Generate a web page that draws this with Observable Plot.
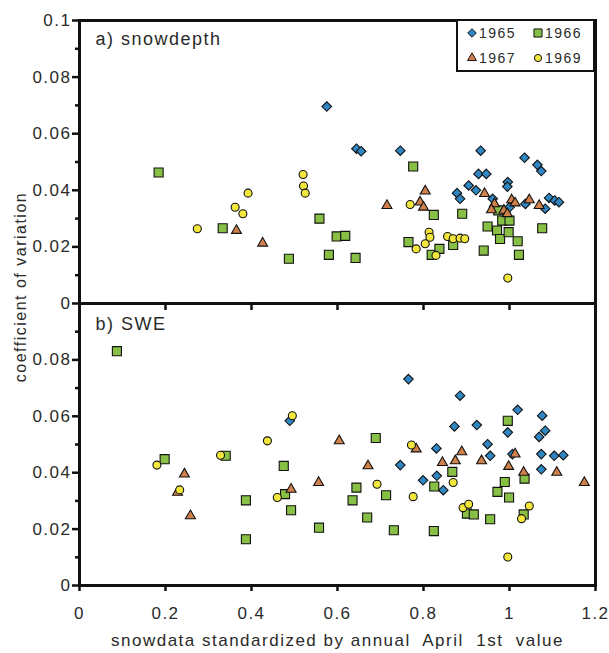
<!DOCTYPE html>
<html><head><meta charset="utf-8">
<script src="https://cdn.jsdelivr.net/npm/d3@7"></script>
<script src="https://cdn.jsdelivr.net/npm/@observablehq/plot@0.6"></script>
<style>
body{margin:0;background:#fff;}
#wrap{position:relative;width:609px;height:653px;font-family:"Liberation Sans",Arial,sans-serif;color:#2a2a2a;overflow:hidden;}
#wrap svg text{letter-spacing:1.5px;}
#top{position:absolute;left:0;top:0;}
#bot{position:absolute;left:0;top:303px;}
#ylab{position:absolute;left:21px;top:287px;transform:translate(-50%,-50%) rotate(-90deg);white-space:nowrap;font-size:16px;letter-spacing:1.5px;}
#legend{position:absolute;left:456px;top:19px;width:139px;height:53px;box-sizing:border-box;border:2.5px solid #111;background:#fff;}
#legend svg{position:absolute;left:-2.5px;top:-2.5px;}
</style></head>
<body><div id="wrap"><div id="top"></div><div id="bot"></div><div id="ylab">coefficient of variation</div><div id="legend"></div></div>
<script>
const years = ["1965", "1966", "1967", "1969"];
const colors = ["#2f86c2", "#88bf45", "#d0804a", "#f3e73d"];
const symbols = ["diamond2", "square", "triangle", "circle"];
const radii = [4.3, 5.1, 3.7, 4];
const panelLabels = ["a) snowdepth", "b) SWE"];
const xLabel = "snowdata standardized by annual  April  1st  value";
const xTicks = [0, 0.2, 0.4, 0.6, 0.8, 1, 1.2];
const innerXTicks = [0.2, 0.4, 0.6, 0.8, 1];
const yTicksTop = [0, 0.02, 0.04, 0.06, 0.08, 0.1];
const yTicksBottom = [0, 0.02, 0.04, 0.06, 0.08];
const yMinor = [0.01, 0.03, 0.05, 0.07, 0.09];

// a) snowdepth
const depth1965 = [[0.575,0.0696],[0.644,0.0547],[0.655,0.0538],[0.746,0.054],[0.933,0.054],[0.928,0.0458],[0.946,0.0458],[0.878,0.039],[0.885,0.037],[0.905,0.0417],[0.922,0.040],[0.961,0.037],[0.996,0.0429],[0.995,0.0413],[1.0,0.034],[1.035,0.0515],[1.065,0.049],[1.074,0.0468],[1.037,0.0352],[1.083,0.0335],[1.092,0.0373],[1.105,0.0364],[1.115,0.0358]];
const depth1966 = [[0.184,0.0463],[0.333,0.0266],[0.487,0.0158],[0.558,0.030],[0.58,0.0172],[0.598,0.0237],[0.618,0.0239],[0.642,0.0161],[0.776,0.0484],[0.824,0.0313],[0.89,0.0317],[0.765,0.0217],[0.819,0.0172],[0.837,0.0193],[0.869,0.0207],[0.94,0.0187],[0.949,0.0272],[0.971,0.0258],[0.978,0.0228],[0.983,0.0293],[0.974,0.0329],[1.0,0.0293],[0.998,0.0252],[1.019,0.022],[1.022,0.0172],[1.076,0.0266]];
const depth1967 = [[0.365,0.0258],[0.426,0.0213],[0.715,0.0346],[0.792,0.0358],[0.804,0.0397],[0.8,0.034],[0.942,0.0388],[0.965,0.0352],[0.958,0.0331],[0.987,0.0329],[0.995,0.0317],[1.005,0.0366],[1.013,0.0355],[1.046,0.0366],[1.069,0.0346]];
const depth1969 = [[0.274,0.0264],[0.362,0.034],[0.38,0.0317],[0.392,0.039],[0.52,0.0456],[0.521,0.0415],[0.525,0.039],[0.769,0.035],[0.783,0.0193],[0.804,0.0211],[0.813,0.0252],[0.815,0.0234],[0.829,0.017],[0.856,0.0237],[0.869,0.0229],[0.885,0.0231],[0.896,0.0229],[0.996,0.009]];

// b) SWE
const swe1965 = [[0.489,0.0584],[0.765,0.0732],[0.746,0.0427],[0.799,0.0373],[0.83,0.0486],[0.831,0.0389],[0.846,0.0338],[0.872,0.0564],[0.885,0.0673],[0.924,0.0569],[0.949,0.0501],[0.955,0.046],[0.996,0.0543],[1.007,0.0466],[1.019,0.0623],[1.076,0.0602],[1.083,0.0549],[1.069,0.0527],[1.074,0.0466],[1.074,0.0412],[1.104,0.046],[1.125,0.0462]];
const swe1966 = [[0.087,0.0831],[0.198,0.0448],[0.387,0.0302],[0.387,0.0164],[0.475,0.0424],[0.478,0.0324],[0.492,0.0267],[0.34,0.046],[0.557,0.0205],[0.635,0.0302],[0.644,0.0347],[0.669,0.0241],[0.689,0.0523],[0.713,0.032],[0.731,0.0196],[0.824,0.0193],[0.825,0.0351],[0.867,0.0403],[0.901,0.0255],[0.917,0.0252],[0.955,0.0235],[0.972,0.0332],[0.989,0.0367],[0.996,0.0584],[0.999,0.0312],[1.035,0.0379],[1.033,0.0252]];
const swe1967 = [[0.244,0.0395],[0.228,0.033],[0.258,0.0247],[0.492,0.0341],[0.556,0.0365],[0.604,0.0513],[0.671,0.0424],[0.783,0.0484],[0.844,0.0436],[0.874,0.0442],[0.889,0.0474],[0.935,0.0442],[0.998,0.0422],[1.013,0.0466],[1.033,0.0401],[1.11,0.0401],[1.174,0.0365]];
const swe1969 = [[0.18,0.0427],[0.233,0.0339],[0.328,0.0462],[0.437,0.0513],[0.46,0.0312],[0.495,0.0602],[0.692,0.0359],[0.772,0.0498],[0.776,0.0315],[0.869,0.0365],[0.892,0.0276],[0.905,0.0288],[1.028,0.0237],[1.046,0.0282],[0.996,0.0101]];

const depthSeries = [depth1965, depth1966, depth1967, depth1969];
const sweSeries = [swe1965, swe1966, swe1967, swe1969];
const ink = "#111";
const fmt = d3.format("~g");

function dotMarks(series) {
  return series.map((pts, i) => Plot.dot(pts, {
    x: d => d[0], y: d => d[1], symbol: () => symbols[i], fill: colors[i],
    stroke: ink, strokeWidth: 1.1, r: radii[i]
  }));
}

function panel(series, label, yTicks, isBottom) {
  const marks = [
    Plot.axisY(yTicks, {anchor: "left", tickSize: 7, tickPadding: 1, fontSize: 17, tickFormat: fmt, stroke: ink, strokeWidth: 2.5, fill: "#2a2a2a", label: null}),
    Plot.axisY(yMinor, {anchor: "left", tickSize: 4, tickFormat: () => "", stroke: ink, strokeWidth: 2.5, label: null}),
    ...dotMarks(series),
    Plot.text([label], {frameAnchor: "top-left", dx: 16, dy: isBottom ? 14 : 12, fontSize: 18, fill: "#2a2a2a"}),
    Plot.frame({stroke: ink, strokeWidth: 3})
  ];
  if (isBottom) {
    marks.push(
      Plot.ruleX(innerXTicks, {x: d => d, insetBottom: 275, stroke: ink, strokeWidth: 2.5}),
      Plot.axisX(xTicks, {anchor: "bottom", tickSize: 6, tickPadding: 15, fontSize: 17, tickFormat: fmt, stroke: ink, strokeWidth: 2.5, fill: "#2a2a2a", label: null}),
      Plot.text([xLabel], {frameAnchor: "bottom", dy: 55, lineAnchor: "middle", fontSize: 17, fill: "#2a2a2a"})
    );
  }
  return Plot.plot({
    width: 609,
    height: isBottom ? 350 : 303,
    marginLeft: 79, marginRight: 14,
    marginTop: isBottom ? 0 : 20,
    marginBottom: isBottom ? 68 : 0,
    style: {fontFamily: '"Liberation Sans", Arial, sans-serif', background: "transparent", overflow: "visible"},
    x: {domain: [0, 1.2], axis: null, label: null},
    y: {domain: [0, 0.1], axis: null, label: null},
    symbol: {type: "identity"},
    marks
  });
}

document.getElementById("top").appendChild(panel(depthSeries, panelLabels[0], yTicksTop, false));
document.getElementById("bot").appendChild(panel(sweSeries, panelLabels[1], yTicksBottom, true));

// legend
const symTypes = {diamond2: d3.symbolDiamond2, square: d3.symbolSquare, triangle: d3.symbolTriangle, circle: d3.symbolCircle};
const lsvg = d3.select("#legend").append("svg").attr("width", 139).attr("height", 53)
  .style("font-family", '"Liberation Sans", Arial, sans-serif');
const legendPos = [[16, 14], [82, 14], [16, 39], [82, 39]];
years.forEach((y, i) => {
  const [lx, ly] = legendPos[i];
  lsvg.append("path")
    .attr("d", d3.symbol(symTypes[symbols[i]], Math.PI * radii[i] * radii[i] * 0.8)())
    .attr("transform", `translate(${lx},${ly})`)
    .attr("fill", colors[i]).attr("stroke", ink).attr("stroke-width", 1);
  lsvg.append("text").attr("x", lx + 7).attr("y", ly + 5).attr("font-size", 14)
    .attr("fill", "#2a2a2a").text(y);
});
</script>
</body></html>
